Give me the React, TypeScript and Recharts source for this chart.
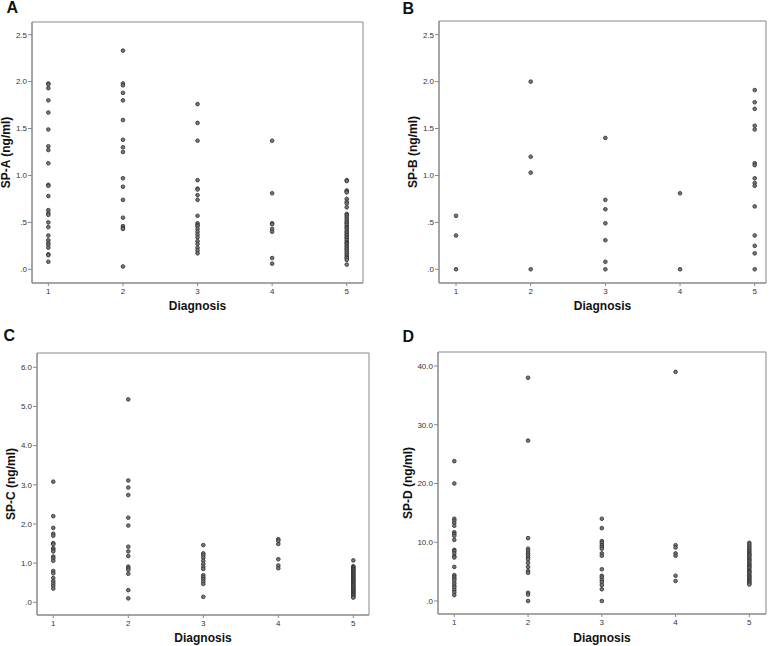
import { ReferenceArea, Scatter, ScatterChart, XAxis, YAxis } from "recharts";

const diagnosis = [1, 2, 3, 4, 5];

// SP-A (ng/ml), one list per diagnosis group
const spA: number[][] = [
  [1.98, 1.97, 1.93, 1.8, 1.67, 1.49, 1.31, 1.27, 1.13, 0.9, 0.89, 0.78, 0.63, 0.6, 0.58, 0.5, 0.45, 0.36, 0.31, 0.28, 0.26, 0.23, 0.16, 0.15, 0.08],
  [2.33, 1.98, 1.96, 1.88, 1.8, 1.59, 1.38, 1.3, 1.25, 0.97, 0.88, 0.74, 0.55, 0.46, 0.44, 0.43, 0.03],
  [1.76, 1.56, 1.37, 0.95, 0.86, 0.85, 0.79, 0.74, 0.57, 0.49, 0.47, 0.46, 0.43, 0.4, 0.37, 0.34, 0.3, 0.27, 0.23, 0.2, 0.17],
  [1.37, 0.81, 0.49, 0.48, 0.43, 0.4, 0.12, 0.06],
  [0.95, 0.94, 0.84, 0.83, 0.82, 0.75, 0.72, 0.7, 0.66, 0.59, 0.58, 0.56, 0.54, 0.52, 0.5, 0.49, 0.47, 0.45, 0.44, 0.42, 0.4, 0.39, 0.37, 0.36, 0.34, 0.33, 0.31, 0.29, 0.28, 0.27, 0.25, 0.24, 0.22, 0.21, 0.19, 0.17, 0.15, 0.13, 0.12, 0.1, 0.05],
];

const spB: number[][] = [
  [0.57, 0.36, 0],
  [2.0, 1.2, 1.03, 0],
  [1.4, 0.74, 0.64, 0.49, 0.31, 0.08, 0],
  [0.81, 0],
  [1.91, 1.78, 1.71, 1.53, 1.49, 1.13, 1.11, 0.97, 0.92, 0.89, 0.67, 0.36, 0.25, 0.17, 0],
];

const spC: number[][] = [
  [3.08, 2.2, 1.9, 1.75, 1.7, 1.51, 1.48, 1.38, 1.34, 1.3, 1.17, 1.12, 1.06, 0.8, 0.74, 0.62, 0.54, 0.48, 0.42, 0.35],
  [5.18, 3.11, 2.93, 2.74, 2.16, 1.96, 1.42, 1.3, 1.18, 0.91, 0.87, 0.83, 0.73, 0.31, 0.1],
  [1.46, 1.25, 1.2, 1.14, 1.06, 0.98, 0.91, 0.85, 0.69, 0.64, 0.59, 0.53, 0.47, 0.14],
  [1.61, 1.57, 1.49, 1.1, 0.94, 0.87],
  [1.07, 0.92, 0.9, 0.87, 0.85, 0.83, 0.8, 0.77, 0.75, 0.72, 0.69, 0.67, 0.64, 0.62, 0.59, 0.57, 0.55, 0.52, 0.5, 0.47, 0.45, 0.43, 0.4, 0.38, 0.35, 0.33, 0.31, 0.28, 0.26, 0.24, 0.21, 0.19, 0.17, 0.14, 0.12],
];

const spD: number[][] = [
  [23.8, 20.0, 14.0, 13.7, 13.3, 12.8, 11.7, 11.4, 11.1, 10.4, 8.7, 8.5, 8.1, 7.6, 7.4, 5.8, 4.4, 4.1, 3.8, 3.5, 3.0, 2.6, 2.3, 1.9, 1.5, 1.0],
  [38.0, 27.3, 10.7, 8.9, 8.5, 8.1, 7.8, 7.4, 7.1, 6.5, 5.8, 5.1, 4.8, 1.4, 1.1, 0],
  [14.0, 12.4, 10.2, 9.9, 9.5, 9.2, 8.9, 8.1, 7.7, 5.4, 4.3, 4.0, 3.6, 3.2, 2.7, 2.0, 0],
  [39.0, 9.5, 9.1, 8.1, 7.7, 4.3, 3.4],
  [9.9, 9.6, 9.3, 9.0, 8.7, 8.5, 8.2, 8.0, 7.8, 7.6, 7.3, 7.1, 6.9, 6.7, 6.4, 6.2, 6.0, 5.8, 5.6, 5.3, 5.1, 4.9, 4.7, 4.4, 4.2, 4.0, 3.8, 3.6, 3.4, 3.2, 3.0, 2.8],
];

const ticksAB = [0, 0.5, 1, 1.5, 2, 2.5];
const ticksC = [0, 1, 2, 3, 4, 5, 6];
const ticksD = [0, 10, 20, 30, 40];

const FONT = "'Liberation Sans', Arial, sans-serif";

function toPoints(groups: number[][]) {
  return groups.flatMap((vals, i) => vals.map((v) => ({ x: diagnosis[i], y: v })));
}

const fmt = (v: number) => v.toFixed(1).replace(/^0\./, ".");

function Dot(props: any) {
  const { cx, cy } = props;
  if (cx == null || cy == null) return null;
  return <circle cx={cx} cy={cy} r={1.8} fill="#7a7a7a" stroke="#333" strokeWidth={0.9} />;
}

type PanelProps = {
  box: [number, number, number, number];
  xDomain: [number, number];
  yDomain: [number, number];
  yTicks: number[];
  groups: number[][];
};

function Panel({ box, xDomain, yDomain, yTicks, groups }: PanelProps) {
  const [l, t, r, b] = box;
  const padL = 40, padT = 10, padR = 10, padB = 30;
  const w = r - l + padL + padR;
  const h = b - t + padT + padB;
  return (
    <div style={{ position: "absolute", left: l - padL, top: t - padT, width: w, height: h }}>
      <ScatterChart width={w} height={h} margin={{ top: padT, right: padR, bottom: 0, left: 0 }}>
        <XAxis
          type="number"
          dataKey="x"
          domain={xDomain}
          ticks={diagnosis}
          interval={0}
          allowDataOverflow
          height={padB}
          tickSize={3}
          tickMargin={2}
          stroke="#888"
          tick={{ fill: "#333", fontSize: 8 }}
        />
        <YAxis
          type="number"
          dataKey="y"
          domain={yDomain}
          ticks={yTicks}
          interval={0}
          allowDataOverflow
          width={padL}
          tickSize={4}
          tickMargin={1}
          tickFormatter={fmt}
          stroke="#888"
          tick={{ fill: "#333", fontSize: 8 }}
        />
        <ReferenceArea
          x1={xDomain[0]}
          x2={xDomain[1]}
          y1={yDomain[0]}
          y2={yDomain[1]}
          fill="none"
          fillOpacity={0}
          stroke="#888"
          strokeWidth={1}
        />
        <Scatter data={toPoints(groups)} shape={Dot} isAnimationActive={false} />
      </ScatterChart>
    </div>
  );
}

export default function App() {
  const titles = [
    { letter: "A", lx: 6.5, ly: 13, label: "SP-A (ng/ml)", yx: 10, yy: 152.5, dx: 197.5, dy: 310 },
    { letter: "B", lx: 402.5, ly: 13.5, label: "SP-B (ng/ml)", yx: 417, yy: 152, dx: 602.5, dy: 310 },
    { letter: "C", lx: 3.5, ly: 341, label: "SP-C (ng/ml)", yx: 15, yy: 484, dx: 203, dy: 642 },
    { letter: "D", lx: 402.5, ly: 341.5, label: "SP-D (ng/ml)", yx: 412, yy: 483, dx: 602, dy: 642 },
  ];
  return (
    <div style={{ position: "absolute", left: 0, top: 0, width: 772, height: 646, background: "#fff", fontFamily: FONT }}>
      <Panel box={[32, 22, 363, 283]} xDomain={[0.781, 5.218]} yDomain={[-0.146, 2.635]} yTicks={ticksAB} groups={spA} />
      <Panel box={[439, 21, 766, 283]} xDomain={[0.772, 5.151]} yDomain={[-0.146, 2.646]} yTicks={ticksAB} groups={spB} />
      <Panel box={[37, 353, 369, 615]} xDomain={[0.783, 5.209]} yDomain={[-0.324, 6.365]} yTicks={ticksC} groups={spC} />
      <Panel box={[438, 352, 766, 614]} xDomain={[0.779, 5.226]} yDomain={[-2.213, 42.38]} yTicks={ticksD} groups={spD} />
      <svg width={772} height={646} style={{ position: "absolute", left: 0, top: 0, pointerEvents: "none" }}>
        {titles.map((t) => (
          <g key={t.letter} fontFamily={FONT} fontWeight="bold" fill="#111">
            <text x={t.lx} y={t.ly} fontSize={16}>{t.letter}</text>
            <text x={t.dx} y={t.dy} fontSize={12} textAnchor="middle">Diagnosis</text>
            <text x={t.yx} y={t.yy} fontSize={12} textAnchor="middle" transform={`rotate(-90 ${t.yx} ${t.yy})`}>
              {t.label}
            </text>
          </g>
        ))}
      </svg>
    </div>
  );
}
